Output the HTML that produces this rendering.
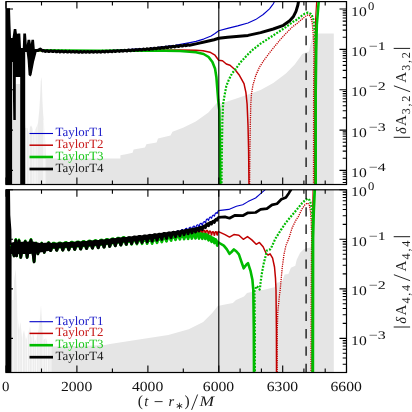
<!DOCTYPE html>
<html><head><meta charset="utf-8"><title>chart</title>
<style>
html,body{margin:0;padding:0;background:#fff;}
body{width:412px;height:412px;overflow:hidden;}
svg{display:block;font-family:"Liberation Serif",serif;will-change:transform;}

</style></head><body>
<svg width="412" height="412" viewBox="0 0 412 412" fill="#111" text-rendering="geometricPrecision">
<defs>
<clipPath id="c1"><rect x="6.0" y="1.6" width="340.5" height="182.9"/></clipPath>
<clipPath id="c2"><rect x="6.0" y="189.8" width="340.5" height="182.7"/></clipPath>
</defs>
<rect width="412" height="412" fill="#fff"/>
<g clip-path="url(#c1)">
<polygon points="12.0,184.5 12.0,90.0 15.8,84.0 20.0,84.0 25.4,128.0 27.5,128.0 28.5,133.0 30.0,127.0 31.0,125.5 32.5,128.0 33.5,134.0 35.0,130.0 36.5,127.0 38.0,123.0 39.3,110.0 40.2,95.0 40.8,81.0 41.3,77.0 41.8,81.0 42.4,100.0 43.1,113.0 43.9,123.0 45.2,140.0 46.0,158.6 120.4,158.6 120.4,155.2 126.0,154.2 132.6,152.8 133.6,149.4 145.0,147.6 146.4,144.3 156.6,142.5 158.0,138.5 170.5,135.5 172.5,131.7 183.0,127.8 195.8,121.5 208.4,112.6 217.2,102.5 221.0,103.5 235.0,99.0 248.0,94.5 260.6,89.9 273.3,82.9 285.9,73.5 294.7,64.6 296.7,61.7 300.0,57.3 302.3,53.9 305.0,52.8 309.0,51.5 310.6,43.9 312.3,37.2 314.0,34.0 318.5,33.5 333.8,33.5 333.8,184.5" fill="#e5e5e5"/>
<line x1="26.6" y1="120" x2="26.6" y2="185" stroke="#fff" stroke-opacity="0.7" stroke-width="0.9"/>
<line x1="29.2" y1="120" x2="29.2" y2="185" stroke="#fff" stroke-opacity="0.8" stroke-width="0.9"/>
<line x1="32.8" y1="120" x2="32.8" y2="185" stroke="#fff" stroke-opacity="0.6" stroke-width="0.9"/>
<line x1="35.0" y1="120" x2="35.0" y2="185" stroke="#fff" stroke-opacity="0.85" stroke-width="0.9"/>
<line x1="37.2" y1="120" x2="37.2" y2="185" stroke="#fff" stroke-opacity="0.5" stroke-width="0.9"/>
<line x1="43.6" y1="120" x2="43.6" y2="185" stroke="#fff" stroke-opacity="0.6" stroke-width="0.9"/>
<line x1="44.8" y1="120" x2="44.8" y2="185" stroke="#fff" stroke-opacity="0.8" stroke-width="0.9"/>
<rect x="25.4" y="76" width="20.8" height="109" fill="#fff" fill-opacity="0.25"/>
<polyline points="34.0,50.5 100.0,51.0 150.0,48.4 175.0,45.4 190.0,42.6 196.0,41.4 203.6,39.1 211.1,36.0 215.0,33.5 218.7,30.7 227.6,28.4 237.7,25.9 248.0,23.0 255.6,19.6 263.2,14.5 269.5,8.8 273.3,3.8 274.8,1.0 275.5,-2.0" fill="none" stroke="#0000c8" stroke-width="1.1" stroke-linejoin="round" stroke-linecap="butt" />
<polyline points="34.0,50.8 100.0,51.2 150.0,50.3 180.0,50.0 196.0,50.3 203.0,50.8 209.9,52.2 215.0,55.2 218.7,60.2 222.5,60.8 226.3,64.0 230.0,65.3 235.1,69.7 239.0,74.7 241.5,79.1 244.0,83.6 245.9,92.4 247.1,104.0 248.0,125.0 248.6,150.0 249.0,186.5" fill="none" stroke="#c00000" stroke-width="1.5" stroke-linejoin="round" stroke-linecap="butt" />
<polyline points="249.6,186.5 249.9,150.0 250.3,125.0 250.8,104.0 251.5,93.7 253.0,84.8 255.6,76.0 259.4,67.2 264.4,59.6 270.1,52.0 279.6,40.4 285.9,33.5 292.2,27.1 296.0,24.3 302.3,18.9 305.5,16.3 308.0,14.9 309.4,15.4 310.5,17.0 311.4,19.5 312.2,22.7 313.0,31.6 313.6,41.7 313.9,52.0 313.6,92.0 313.5,186.5" fill="none" stroke="#c00000" stroke-width="1.3" stroke-linejoin="round" stroke-linecap="butt" stroke-dasharray="1.2 1.0"/>
<polyline points="314.6,186.5 314.8,92.0 315.2,40.0 315.6,19.0 316.8,-1.0" fill="none" stroke="#c00000" stroke-width="1.2" stroke-linejoin="round" stroke-linecap="butt" />
<polyline points="34.0,50.3 100.0,50.9 150.0,50.4 180.0,51.0 196.0,52.2 203.6,54.0 208.6,57.0 212.4,62.0 215.0,68.4 216.4,77.3 217.4,90.0 218.2,100.0 219.3,110.0 219.9,140.0 220.3,186.5" fill="none" stroke="#00bb00" stroke-width="2.6" stroke-linejoin="round" stroke-linecap="butt" />
<polyline points="221.5,186.5 221.9,150.0 222.4,120.0 223.1,104.0 224.4,96.2 226.3,86.1 228.8,79.8 232.0,73.5 235.1,69.7 240.2,62.7 246.5,55.8 251.8,50.5 260.6,43.6 273.3,35.4 285.9,27.1 293.5,21.5 296.0,20.2 301.7,15.8 304.8,13.6 308.0,12.6 311.1,13.9 313.0,17.7 314.0,23.4 314.7,31.6 315.2,41.7 315.6,52.0 315.6,186.5" fill="none" stroke="#00bb00" stroke-width="2.2" stroke-linejoin="round" stroke-linecap="butt" stroke-dasharray="1.9 1.4"/>
<polyline points="315.7,186.5 315.7,92.0 316.2,52.0 316.8,25.0 318.7,1.5 319.0,-2.0" fill="none" stroke="#00bb00" stroke-width="2.6" stroke-linejoin="round" stroke-linecap="butt" />
<polygon points="5.5,8.2 10.0,8.2 10.5,25.0 11.0,38.0 12.5,38.0 13.8,29.0 16.3,29.0 17.0,34.0 17.8,33.5 20.3,33.5 21.0,48.0 22.8,48.0 23.3,33.5 26.0,33.5 26.8,45.0 27.6,39.8 30.2,39.8 30.8,44.0 31.5,39.8 34.0,39.8 34.8,49.2 36.6,49.2 36.6,52.0 34.0,62.0 31.5,75.0 30.3,76.5 28.6,75.0 27.6,60.0 26.6,52.0 25.2,52.0 25.2,186.5 20.2,186.5 20.2,77.0 15.8,77.0 15.8,120.0 13.3,120.0 13.0,100.0 12.7,62.0 12.1,62.0 12.1,186.5 5.5,186.5" fill="#000"/>
<polyline points="35.0,50.6 38.0,50.4 40.4,49.0 42.5,50.9 43.1,50.6 43.7,50.6 44.3,50.9 44.9,51.3 45.5,51.4 46.1,51.1 46.7,50.8 47.3,50.7 47.9,51.0 48.5,51.4 49.1,51.5 49.7,51.3 50.3,50.9 50.9,50.8 51.5,51.0 52.1,51.4 52.7,51.6 53.3,51.5 53.9,51.1 54.5,50.9 55.1,51.1 55.7,51.5 56.3,51.8 56.9,51.7 57.5,51.3 58.1,51.1 58.7,51.2 59.3,51.5 59.9,51.9 60.5,51.8 61.1,51.5 61.7,51.2 62.3,51.2 62.9,51.6 63.5,51.9 64.1,51.9 64.7,51.6 65.3,51.3 65.9,51.2 66.5,51.6 67.1,51.9 67.7,52.0 68.3,51.8 68.9,51.4 69.5,51.3 70.1,51.6 70.7,52.0 71.3,52.1 71.9,51.9 72.5,51.5 73.1,51.4 73.7,51.6 74.3,52.0 74.9,52.2 75.5,52.0 76.1,51.7 76.7,51.4 77.3,51.6 77.9,52.0 78.5,52.3 79.1,52.2 79.7,51.8 80.3,51.5 80.9,51.6 81.5,52.0 82.1,52.3 82.7,52.2 83.3,51.8 83.9,51.5 84.5,51.5 85.1,51.9 85.7,52.2 86.3,52.2 86.9,51.9 87.5,51.5 88.1,51.5 88.7,51.8 89.3,52.2 89.9,52.2 90.5,51.9 91.1,51.6 91.7,51.5 92.3,51.7 92.9,52.1 93.5,52.2 94.1,52.0 94.7,51.6 95.3,51.4 95.9,51.6 96.5,52.0 97.1,52.2 97.7,52.0 98.3,51.6 98.9,51.4 99.5,51.6 100.1,51.9 100.7,52.2 101.3,52.0 101.9,51.6 102.5,51.3 103.1,51.4 103.7,51.7 104.3,52.0 104.9,51.9 105.5,51.5 106.1,51.2 106.7,51.2 107.3,51.5 107.9,51.8 108.5,51.8 109.1,51.4 109.7,51.1 110.3,51.0 110.9,51.3 111.5,51.6 112.1,51.7 112.7,51.3 113.3,50.9 113.9,50.8 114.5,51.0 115.1,51.4 115.7,51.5 116.3,51.2 116.9,50.8 117.5,50.6 118.1,50.8 118.7,51.2 119.3,51.4 119.9,51.1 120.5,50.7 121.1,50.5 121.7,50.6 122.3,51.0 122.9,51.2 123.5,51.0 124.1,50.6 124.7,50.3 125.3,50.4 125.9,50.7 126.5,51.0 127.1,50.9 127.7,50.5 128.3,50.1 128.9,50.1 129.5,50.4 130.1,50.7 130.7,50.7 131.3,50.3 131.9,49.9 132.5,49.8 133.1,50.1 133.7,50.4 134.3,50.5 134.9,50.1 135.5,49.7 136.1,49.6 136.7,49.8 137.3,50.1 137.9,50.2 138.5,49.9 139.1,49.5 139.7,49.3 140.3,49.5 140.9,49.8 141.5,50.0 142.1,49.8 142.7,49.3 143.3,49.1 143.9,49.2 144.5,49.5 145.1,49.7 145.7,49.6 146.3,49.2 146.9,48.8 147.5,48.9 148.1,49.2 148.7,49.5 149.3,49.4 149.9,49.0 150.5,48.6 151.1,48.5 151.7,48.8 152.3,49.1 152.9,49.1 153.5,48.7 154.1,48.3 154.7,48.2 155.3,48.4 155.9,48.7 156.5,48.7 157.1,48.4 157.7,48.0 158.3,47.8 158.9,48.0 159.5,48.3 160.1,48.4 160.7,48.1 161.3,47.6 161.9,47.4 162.5,47.6 163.1,47.9 163.7,48.0 164.3,47.8 164.9,47.3 165.5,47.1 166.1,47.1 166.7,47.5 167.3,47.7 167.9,47.5 168.5,47.0 169.1,46.7 169.7,46.7 170.3,47.0 170.9,47.3 171.5,47.2 172.1,46.7 172.7,46.4 173.3,46.3 173.9,46.6 174.5,46.9 175.1,46.8 175.7,46.4 176.3,46.0 176.9,45.9 177.5,46.1 178.1,46.4 178.7,46.5 179.3,46.1 179.9,45.7 180.5,45.5 181.1,45.7 181.7,46.0 182.3,46.1 182.9,45.8 183.5,45.3 184.1,45.1 184.7,45.2 185.3,45.6 185.9,45.7 186.5,45.5 187.1,45.0 187.7,44.7 188.3,44.8 188.9,45.1 189.5,45.3 196.0,43.9 208.6,41.0 214.0,39.7 218.7,38.3 227.6,37.2 248.0,35.4 260.6,32.6 273.3,29.0 283.4,25.3 289.7,20.8 293.5,16.4 296.0,11.4 297.9,5.0 298.5,1.5 298.9,-2.0" fill="none" stroke="#000" stroke-width="3.0" stroke-linejoin="round" stroke-linecap="butt" />
<line x1="218.8" y1="1.6" x2="218.8" y2="184.5" stroke="#000" stroke-width="1.1"/>
<line x1="306.1" y1="1.6" x2="306.1" y2="184.5" stroke="#0a0a0a" stroke-width="1.3" stroke-dasharray="9.4 8.0" stroke-dashoffset="0.6"/>
</g>
<line x1="29.5" y1="133.5" x2="53" y2="133.5" stroke="#0000c8" stroke-width="1.1"/>
<text x="55.6" y="136.3" font-size="12.6" fill="#1a1ac8" textLength="47.9" lengthAdjust="spacingAndGlyphs">TaylorT1</text>
<line x1="29.5" y1="145.2" x2="53" y2="145.2" stroke="#c00000" stroke-width="1.5"/>
<text x="55.6" y="148.0" font-size="12.6" fill="#c81a1a" textLength="47.9" lengthAdjust="spacingAndGlyphs">TaylorT2</text>
<line x1="29.5" y1="157.0" x2="53" y2="157.0" stroke="#00bb00" stroke-width="2.6"/>
<text x="55.6" y="159.8" font-size="12.6" fill="#1ac81a" textLength="47.9" lengthAdjust="spacingAndGlyphs">TaylorT3</text>
<line x1="29.5" y1="169.0" x2="53" y2="169.0" stroke="#000" stroke-width="2.7"/>
<text x="55.6" y="171.8" font-size="12.6" fill="#1a1a1a" textLength="47.9" lengthAdjust="spacingAndGlyphs">TaylorT4</text>
<g clip-path="url(#c2)">
<polygon points="12.0,372.5 12.0,300.0 13.5,300.0 14.2,280.0 15.8,269.0 16.6,290.0 17.5,315.0 19.0,330.0 20.5,322.0 22.0,338.0 24.0,330.0 26.0,340.0 28.0,334.0 30.0,326.0 31.5,338.0 33.0,332.0 35.0,342.0 37.0,336.0 38.5,330.0 40.0,318.0 41.0,305.0 42.0,322.0 43.5,340.0 46.0,338.0 48.0,345.0 52.0,346.5 80.0,346.0 105.0,345.0 110.0,343.9 139.0,339.5 168.3,335.0 188.7,329.3 203.2,322.0 212.0,313.3 217.8,306.0 225.0,304.5 232.9,303.0 236.0,300.0 244.0,296.6 247.0,293.0 251.4,292.0 256.0,290.0 263.1,290.0 274.5,287.2 277.0,282.8 282.1,281.6 284.6,274.6 288.4,274.0 290.9,267.7 295.3,265.8 296.7,259.7 300.0,253.0 303.4,249.6 306.0,248.3 311.5,247.5 313.0,240.0 314.2,211.0 315.7,189.8 333.8,189.8 333.8,372.5" fill="#e5e5e5"/>
<line x1="13.2" y1="265" x2="13.2" y2="373" stroke="#fff" stroke-opacity="0.6" stroke-width="0.9"/>
<line x1="17.6" y1="265" x2="17.6" y2="373" stroke="#fff" stroke-opacity="0.7" stroke-width="0.9"/>
<line x1="19.8" y1="265" x2="19.8" y2="373" stroke="#fff" stroke-opacity="0.5" stroke-width="0.9"/>
<line x1="22.6" y1="265" x2="22.6" y2="373" stroke="#fff" stroke-opacity="0.85" stroke-width="0.9"/>
<line x1="25.2" y1="265" x2="25.2" y2="373" stroke="#fff" stroke-opacity="0.6" stroke-width="0.9"/>
<line x1="27.4" y1="265" x2="27.4" y2="373" stroke="#fff" stroke-opacity="0.8" stroke-width="0.9"/>
<line x1="29.6" y1="265" x2="29.6" y2="373" stroke="#fff" stroke-opacity="0.5" stroke-width="0.9"/>
<line x1="32.2" y1="265" x2="32.2" y2="373" stroke="#fff" stroke-opacity="0.85" stroke-width="0.9"/>
<line x1="34.4" y1="265" x2="34.4" y2="373" stroke="#fff" stroke-opacity="0.6" stroke-width="0.9"/>
<line x1="36.6" y1="265" x2="36.6" y2="373" stroke="#fff" stroke-opacity="0.8" stroke-width="0.9"/>
<line x1="39.0" y1="265" x2="39.0" y2="373" stroke="#fff" stroke-opacity="0.5" stroke-width="0.9"/>
<line x1="43.0" y1="265" x2="43.0" y2="373" stroke="#fff" stroke-opacity="0.8" stroke-width="0.9"/>
<line x1="45.4" y1="265" x2="45.4" y2="373" stroke="#fff" stroke-opacity="0.6" stroke-width="0.9"/>
<line x1="47.6" y1="265" x2="47.6" y2="373" stroke="#fff" stroke-opacity="0.8" stroke-width="0.9"/>
<line x1="50.0" y1="265" x2="50.0" y2="373" stroke="#fff" stroke-opacity="0.5" stroke-width="0.9"/>
<rect x="12" y="265" width="40" height="108" fill="#fff" fill-opacity="0.3"/>
<polyline points="11.0,246.0 12.5,250.0 14.0,256.0 15.8,240.0 16.6,256.0 17.8,248.0 19.0,240.5 20.8,257.5 22.0,250.0 23.5,246.0 25.3,241.5 27.1,257.5 28.5,250.0 29.5,244.0 31.0,240.0 32.5,250.0 34.1,262.0 35.2,250.0 36.0,243.5 37.9,254.0 39.5,248.0 41.7,243.5 44.2,252.5 46.0,247.0 48.6,243.0 50.2,250.5 50.2,249.6 50.5,250.2 50.8,250.3 51.1,249.6 51.4,248.5 51.7,247.2 52.0,246.0 52.3,245.1 52.6,244.5 52.9,244.3 53.2,244.2 53.5,244.2 53.8,244.1 54.1,244.1 54.4,244.1 54.7,244.3 55.0,244.7 55.3,245.5 55.6,246.6 55.9,247.9 56.2,249.1 56.5,249.9 56.8,250.1 57.1,249.6 57.4,248.5 57.7,247.2 58.0,245.9 58.3,244.9 58.6,244.3 58.9,244.0 59.2,243.9 59.5,243.8 59.8,243.8 60.1,243.8 60.4,243.8 60.7,243.9 61.0,244.3 61.3,245.0 61.6,246.1 61.9,247.4 62.2,248.6 62.5,249.5 62.8,249.8 63.1,249.4 63.4,248.4 63.7,247.1 64.0,245.7 64.3,244.7 64.6,244.0 64.9,243.7 65.2,243.5 65.5,243.5 65.8,243.5 66.1,243.5 66.4,243.5 66.7,243.6 67.0,243.9 67.3,244.6 67.6,245.7 67.9,247.0 68.2,248.3 68.5,249.2 68.8,249.5 69.1,249.1 69.4,248.1 69.7,246.8 70.0,245.4 70.3,244.4 70.6,243.7 70.9,243.3 71.2,243.2 71.5,243.2 71.8,243.2 72.1,243.2 72.4,243.2 72.7,243.3 73.0,243.6 73.3,244.4 73.6,245.5 73.9,246.8 74.2,248.1 74.5,249.0 74.8,249.2 75.1,248.7 75.4,247.6 75.7,246.3 76.0,244.9 76.3,243.9 76.6,243.3 76.9,243.0 77.2,242.8 77.5,242.8 77.8,242.8 78.1,242.8 78.4,242.8 78.7,242.9 79.0,243.3 79.3,244.1 79.6,245.3 79.9,246.7 80.2,247.9 80.5,248.7 80.8,248.7 81.1,248.1 81.4,246.9 81.7,245.5 82.0,244.2 82.3,243.3 82.6,242.7 82.9,242.5 83.2,242.4 83.5,242.4 83.8,242.3 84.1,242.3 84.4,242.4 84.7,242.6 85.0,243.1 85.3,244.0 85.6,245.3 85.9,246.7 86.2,247.8 86.5,248.4 86.8,248.2 87.1,247.3 87.4,246.0 87.7,244.6 88.0,243.4 88.3,242.6 88.6,242.2 88.9,242.0 89.2,241.9 89.5,241.9 89.8,241.9 90.1,241.9 90.4,242.0 90.7,242.3 91.0,243.0 91.3,244.1 91.6,245.5 91.9,246.8 92.2,247.7 92.5,248.0 92.8,247.4 93.1,246.3 93.4,244.9 93.7,243.6 94.0,242.5 94.3,241.9 94.6,241.6 94.9,241.5 95.2,241.5 95.5,241.5 95.8,241.5 96.1,241.5 96.4,241.7 96.7,242.2 97.0,243.2 97.3,244.4 97.6,245.8 97.9,247.0 98.2,247.5 98.5,247.3 98.8,246.4 99.1,245.1 99.4,243.7 99.7,242.5 100.0,241.7 100.3,241.3 100.6,241.1 100.9,241.0 101.2,241.0 101.5,241.0 101.8,241.0 102.1,241.1 102.4,241.5 102.7,242.3 103.0,243.5 103.3,244.9 103.6,246.1 103.9,246.8 104.2,246.8 104.5,246.1 104.8,244.8 105.1,243.3 105.4,242.0 105.7,241.1 106.0,240.7 106.3,240.5 106.6,240.4 106.9,240.4 107.2,240.3 107.5,240.3 107.8,240.4 108.1,240.8 108.4,241.6 108.7,242.7 109.0,244.1 109.3,245.4 109.6,246.1 109.9,246.1 110.2,245.3 110.5,244.0 110.8,242.5 111.1,241.3 111.4,240.4 111.7,240.0 112.0,239.8 112.3,239.7 112.6,239.7 112.9,239.7 113.2,239.7 113.5,239.8 113.8,240.3 114.1,241.2 114.4,242.4 114.7,243.9 115.0,245.0 115.3,245.5 115.6,245.2 115.9,244.2 116.2,242.8 116.5,241.3 116.8,240.2 117.1,239.5 117.4,239.2 117.7,239.1 118.0,239.1 118.3,239.0 118.6,239.0 118.9,239.1 119.2,239.4 119.5,240.1 119.8,241.2 120.1,242.6 120.4,243.9 120.7,244.7 121.0,244.7 121.3,243.9 121.6,242.6 121.9,241.1 122.2,239.9 122.5,239.0 122.8,238.7 123.1,238.5 123.4,238.5 123.7,238.4 124.0,238.4 124.3,238.4 124.6,238.7 124.9,239.3 125.2,240.4 125.5,241.8 125.8,243.1 126.1,244.0 126.4,244.1 126.7,243.3 127.0,242.0 127.3,240.5 127.6,239.2 127.9,238.4 128.2,238.0 128.5,237.9 128.8,237.9 129.1,237.8 129.4,237.8 129.7,237.9 130.0,238.1 130.3,238.8 130.6,240.0 130.9,241.4 131.2,242.7 131.5,243.5 131.8,243.4 132.1,242.4 132.4,241.0 132.7,239.5 133.0,238.4 133.3,237.7 133.6,237.4 133.9,237.3 134.2,237.3 134.5,237.2 134.8,237.2 135.1,237.3 135.4,237.8 135.7,238.7 136.0,240.0 136.3,241.4 136.6,242.5 136.9,242.9 137.2,242.4 137.5,241.1 137.8,239.6 138.1,238.3 138.4,237.4 138.7,236.9 139.0,236.8 139.3,236.7 139.6,236.7 139.9,236.7 140.2,236.7 140.5,237.0 140.8,237.8 141.1,239.0 141.4,240.4 141.7,241.7 142.0,242.3 142.3,241.9 142.6,240.8 142.9,239.3 143.2,237.9 143.5,236.9 143.8,236.4 144.1,236.2 144.4,236.2 144.7,236.1 145.0,236.1 145.3,236.1 145.6,236.4 145.9,237.2 146.2,238.4 146.5,239.8 146.8,241.1 147.1,241.7 147.4,241.3 147.7,240.1 148.0,238.6 148.3,237.2 148.6,236.3 148.9,235.8 149.2,235.6 149.5,235.6 149.8,235.6 150.1,235.5 150.4,235.6 150.7,236.0 151.0,236.9 151.3,238.2 151.6,239.6 151.9,240.8 152.2,241.0 152.5,240.3 152.8,239.0 153.1,237.4 153.4,236.2 153.7,235.4 154.0,235.1 154.3,235.0 154.6,235.0 154.9,234.9 155.2,234.9 155.5,235.1 155.8,235.8 156.1,236.9 156.4,238.3 156.7,239.6 157.0,240.1 157.3,239.7 157.6,238.5 157.9,237.0 158.2,235.7 158.5,234.9 158.8,234.5 159.1,234.4 159.4,234.3 159.7,234.3 160.0,234.3 160.3,234.5 160.6,235.0 160.9,236.1 161.2,237.5 161.5,238.7 161.8,239.2 162.1,238.8 162.4,237.6 162.7,236.1 163.0,234.8 163.3,234.1 163.6,233.8 163.9,233.7 164.2,233.7 164.5,233.7 164.8,233.7 165.1,233.9 165.4,234.7 165.7,235.9 166.0,237.2 166.3,238.2 166.6,238.3 166.9,237.5 167.2,236.1 167.5,234.7 167.8,233.7 168.1,233.3 168.4,233.1 168.7,233.1 169.0,233.0 169.3,233.0 169.6,233.2 169.9,233.7 170.2,234.7 170.5,236.0 170.8,237.0 171.1,237.3 171.4,236.7 171.7,235.3 172.0,233.9 172.3,232.9 172.6,232.4 172.9,232.2 173.2,232.1 173.5,232.0 173.8,232.0 174.1,232.1 174.4,232.6 174.7,233.6 175.0,234.8 175.3,235.7 175.6,235.9 175.9,235.1 176.2,233.8 176.5,232.5 176.8,231.6 177.1,231.2 177.4,231.0 177.7,230.9 178.0,230.9 178.3,230.8 178.6,231.0 178.9,231.7 179.2,232.8 179.5,233.9 179.8,234.5 180.1,234.2 180.4,233.1 180.7,231.7 181.0,230.6 181.3,230.0 181.6,229.8 181.9,229.7 182.2,229.6 182.5,229.5 182.8,229.7 183.1,230.2 183.4,231.2 183.7,232.4 184.0,233.0 184.3,232.7 184.6,231.6 184.9,230.2 185.2,229.2 185.5,228.7 185.8,228.5 186.1,228.4 186.4,228.4 186.7,228.3 187.0,228.6 187.3,229.4 187.6,230.5 187.9,231.4 188.2,231.4 188.5,230.5 188.8,229.2 189.1,228.1 189.4,227.6 189.7,227.4 190.0,227.3 190.3,227.2 190.6,227.2 190.9,227.5 191.2,228.4 191.5,229.5 191.8,230.2 192.1,229.9 192.4,228.8 192.7,227.5 193.0,226.7 193.3,226.3 193.6,226.2 193.9,226.1 194.2,226.1 194.5,226.3 194.8,227.0 195.1,228.1 195.4,228.8 195.7,228.6 196.0,227.5 196.3,226.2 196.6,225.4 196.9,225.1 197.2,224.9 197.5,224.8 197.8,224.7 198.1,225.1 198.4,225.9 198.7,226.9 199.0,227.1 199.3,226.3 199.6,225.0 199.9,224.0 200.2,223.6 200.5,223.4 200.8,223.3 201.1,223.2 201.4,223.4 201.7,224.2 202.0,225.2 202.3,225.4 202.6,224.5 202.9,223.3 203.2,222.4 203.5,222.0 203.8,221.9 204.1,221.7 204.4,221.5 204.7,221.7 205.0,222.4 205.3,223.0 205.6,222.6 205.9,221.4 206.2,220.1 206.5,219.5 206.8,219.2 207.1,219.1 207.4,218.9 207.7,219.0 208.0,219.7 208.3,220.4 208.6,220.4 208.9,219.5 209.2,218.3 209.5,217.6 209.8,217.3 210.1,217.1 210.4,217.0 210.7,217.1 211.0,217.6 211.3,218.3 211.6,218.3 211.9,217.3 212.2,216.3 212.5,215.7 212.8,215.4 213.1,215.2 213.4,215.1 213.7,215.3 214.0,215.8 214.3,216.2 214.6,215.7 214.9,214.6 215.2,213.7 215.5,213.3 215.8,213.0 216.1,212.7 216.4,212.6 216.7,213.0 217.0,213.5 217.3,213.3 217.6,212.3 217.9,211.4 218.2,210.9 218.5,210.6 228.8,209.4 236.4,206.2 242.7,204.7 248.0,201.6 255.6,198.0 260.6,193.6 265.0,189.8 266.5,187.0" fill="none" stroke="#0000c8" stroke-width="1.1" stroke-linejoin="round" stroke-linecap="butt" />
<polyline points="11.0,246.0 12.5,250.0 14.0,256.0 15.8,240.0 16.6,256.0 17.8,248.0 19.0,240.5 20.8,257.5 22.0,250.0 23.5,246.0 25.3,241.5 27.1,257.5 28.5,250.0 29.5,244.0 31.0,240.0 32.5,250.0 34.1,262.0 35.2,250.0 36.0,243.5 37.9,254.0 39.5,248.0 41.7,243.5 44.2,252.5 46.0,247.0 48.6,243.0 50.2,250.5 50.2,249.7 50.5,250.3 50.8,250.4 51.1,249.7 51.4,248.6 51.7,247.3 52.0,246.1 52.3,245.2 52.6,244.6 52.9,244.4 53.2,244.3 53.5,244.2 53.8,244.2 54.1,244.2 54.4,244.2 54.7,244.4 55.0,244.8 55.3,245.6 55.6,246.7 55.9,248.0 56.2,249.2 56.5,250.0 56.8,250.2 57.1,249.7 57.4,248.6 57.7,247.3 58.0,246.0 58.3,245.0 58.6,244.4 58.9,244.1 59.2,244.0 59.5,243.9 59.8,243.9 60.1,243.9 60.4,243.9 60.7,244.0 61.0,244.4 61.3,245.1 61.6,246.2 61.9,247.5 62.2,248.7 62.5,249.6 62.8,249.9 63.1,249.5 63.4,248.5 63.7,247.2 64.0,245.9 64.3,244.8 64.6,244.1 64.9,243.8 65.2,243.7 65.5,243.6 65.8,243.6 66.1,243.6 66.4,243.6 66.7,243.7 67.0,244.1 67.3,244.7 67.6,245.8 67.9,247.1 68.2,248.4 68.5,249.3 68.8,249.6 69.1,249.2 69.4,248.2 69.7,246.9 70.0,245.6 70.3,244.5 70.6,243.8 70.9,243.5 71.2,243.3 71.5,243.3 71.8,243.3 72.1,243.3 72.4,243.3 72.7,243.4 73.0,243.8 73.3,244.5 73.6,245.6 73.9,246.9 74.2,248.2 74.5,249.1 74.8,249.3 75.1,248.9 75.4,247.8 75.7,246.4 76.0,245.1 76.3,244.0 76.6,243.4 76.9,243.1 77.2,243.0 77.5,242.9 77.8,242.9 78.1,242.9 78.4,242.9 78.7,243.1 79.0,243.5 79.3,244.3 79.6,245.5 79.9,246.8 80.2,248.0 80.5,248.8 80.8,248.9 81.1,248.2 81.4,247.1 81.7,245.7 82.0,244.4 82.3,243.4 82.6,242.9 82.9,242.6 83.2,242.5 83.5,242.5 83.8,242.5 84.1,242.5 84.4,242.5 84.7,242.7 85.0,243.3 85.3,244.2 85.6,245.5 85.9,246.8 86.2,248.0 86.5,248.5 86.8,248.3 87.1,247.5 87.4,246.2 87.7,244.8 88.0,243.6 88.3,242.8 88.6,242.3 88.9,242.2 89.2,242.1 89.5,242.1 89.8,242.1 90.1,242.1 90.4,242.2 90.7,242.5 91.0,243.2 91.3,244.3 91.6,245.7 91.9,247.0 92.2,247.9 92.5,248.1 92.8,247.6 93.1,246.5 93.4,245.1 93.7,243.7 94.0,242.7 94.3,242.1 94.6,241.8 94.9,241.7 95.2,241.7 95.5,241.7 95.8,241.6 96.1,241.7 96.4,241.9 96.7,242.4 97.0,243.3 97.3,244.6 97.6,246.0 97.9,247.2 98.2,247.7 98.5,247.5 98.8,246.6 99.1,245.3 99.4,243.8 99.7,242.6 100.0,241.9 100.3,241.4 100.6,241.3 100.9,241.2 101.2,241.2 101.5,241.2 101.8,241.2 102.1,241.3 102.4,241.7 102.7,242.5 103.0,243.6 103.3,245.0 103.6,246.3 103.9,247.0 104.2,247.0 104.5,246.3 104.8,245.0 105.1,243.5 105.4,242.2 105.7,241.3 106.0,240.8 106.3,240.6 106.6,240.6 106.9,240.5 107.2,240.5 107.5,240.5 107.8,240.6 108.1,241.0 108.4,241.8 108.7,242.9 109.0,244.3 109.3,245.6 109.6,246.3 109.9,246.3 110.2,245.5 110.5,244.2 110.8,242.7 111.1,241.4 111.4,240.6 111.7,240.2 112.0,240.0 112.3,239.9 112.6,239.9 112.9,239.9 113.2,239.9 113.5,240.0 113.8,240.5 114.1,241.4 114.4,242.7 114.7,244.1 115.0,245.2 115.3,245.7 115.6,245.4 115.9,244.4 116.2,243.0 116.5,241.5 116.8,240.4 117.1,239.7 117.4,239.4 117.7,239.3 118.0,239.3 118.3,239.3 118.6,239.2 118.9,239.3 119.2,239.6 119.5,240.3 119.8,241.4 120.1,242.8 120.4,244.1 120.7,244.9 121.0,244.9 121.3,244.2 121.6,242.8 121.9,241.3 122.2,240.1 122.5,239.3 122.8,238.9 123.1,238.7 123.4,238.7 123.7,238.6 124.0,238.6 124.3,238.7 124.6,238.9 124.9,239.5 125.2,240.6 125.5,242.0 125.8,243.3 126.1,244.2 126.4,244.3 126.7,243.6 127.0,242.2 127.3,240.7 127.6,239.5 127.9,238.7 128.2,238.3 128.5,238.1 128.8,238.1 129.1,238.1 129.4,238.0 129.7,238.1 130.0,238.4 130.3,239.0 130.6,240.2 130.9,241.6 131.2,242.9 131.5,243.7 131.8,243.6 132.1,242.7 132.4,241.3 132.7,239.8 133.0,238.6 133.3,237.9 133.6,237.6 133.9,237.5 134.2,237.5 134.5,237.5 134.8,237.5 135.1,237.6 135.4,238.0 135.7,238.9 136.0,240.2 136.3,241.6 136.6,242.8 136.9,243.1 137.2,242.6 137.5,241.4 137.8,239.8 138.1,238.5 138.4,237.6 138.7,237.2 139.0,237.0 139.3,237.0 139.6,236.9 139.9,236.9 140.2,237.0 140.5,237.3 140.8,238.0 141.1,239.2 141.4,240.7 141.7,241.9 142.0,242.5 142.3,242.2 142.6,241.1 142.9,239.6 143.2,238.1 143.5,237.2 143.8,236.6 144.1,236.5 144.4,236.4 144.7,236.4 145.0,236.3 145.3,236.4 145.6,236.7 145.9,237.4 146.2,238.6 146.5,240.1 146.8,241.4 147.1,241.9 147.4,241.5 147.7,240.4 148.0,238.9 148.3,237.5 148.6,236.5 148.9,236.1 149.2,235.9 149.5,235.9 149.8,235.8 150.1,235.8 150.4,235.9 150.7,236.3 151.0,237.1 151.3,238.4 151.6,239.9 151.9,241.0 152.2,241.3 152.5,240.6 152.8,239.2 153.1,237.7 153.4,236.4 153.7,235.7 154.0,235.4 154.3,235.3 154.6,235.2 154.9,235.2 155.2,235.2 155.5,235.4 155.8,236.0 156.1,237.2 156.4,238.6 156.7,239.9 157.0,240.4 157.3,240.0 157.6,238.8 157.9,237.3 158.2,235.9 158.5,235.1 158.8,234.7 159.1,234.6 159.4,234.6 159.7,234.5 160.0,234.5 160.3,234.7 160.6,235.3 160.9,236.4 161.2,237.8 161.5,239.0 161.8,239.6 162.1,239.1 162.4,237.9 162.7,236.4 163.0,235.1 163.3,234.3 163.6,234.0 163.9,233.9 164.2,233.9 164.5,233.9 164.8,233.9 165.1,234.2 165.4,234.9 165.7,236.1 166.0,237.5 166.3,238.5 166.6,238.7 166.9,237.8 167.2,236.4 167.5,235.0 167.8,234.0 168.1,233.5 168.4,233.3 168.7,233.3 169.0,233.2 169.3,233.2 169.6,233.4 169.9,233.9 170.2,235.1 170.5,236.5 170.8,237.6 171.1,238.0 171.4,237.4 171.7,236.0 172.0,234.6 172.3,233.6 172.6,233.1 172.9,232.9 173.2,232.9 173.5,232.9 173.8,232.9 174.1,233.1 174.4,233.7 174.7,234.8 175.0,236.2 175.3,237.3 175.6,237.5 175.9,236.8 176.2,235.4 176.5,234.1 176.8,233.2 177.1,232.8 177.4,232.7 177.7,232.7 178.0,232.6 178.3,232.7 178.6,233.0 178.9,233.7 179.2,235.0 179.5,236.3 179.8,237.0 180.1,236.8 180.4,235.6 180.7,234.2 181.0,233.1 181.3,232.5 181.6,232.3 181.9,232.2 182.2,232.2 182.5,232.2 182.8,232.4 183.1,233.1 183.4,234.3 183.7,235.7 184.0,236.5 184.3,236.2 184.6,235.0 184.9,233.6 185.2,232.5 185.5,231.9 185.8,231.8 186.1,231.8 186.4,231.7 186.7,231.8 187.0,232.2 187.3,233.2 187.6,234.6 187.9,235.7 188.2,235.9 188.5,234.9 188.8,233.4 189.1,232.2 189.4,231.6 189.7,231.4 190.0,231.4 190.3,231.3 190.6,231.4 190.9,231.9 191.2,233.0 191.5,234.5 191.8,235.4 192.1,235.1 192.4,233.8 192.7,232.3 193.0,231.4 193.3,231.0 193.6,231.0 193.9,230.9 194.2,231.0 194.5,231.3 194.8,232.3 195.1,233.8 195.4,234.9 195.7,234.7 196.0,233.4 196.3,231.9 196.6,231.0 196.9,230.7 197.2,230.7 197.5,230.6 197.8,230.7 198.1,231.3 198.4,232.6 198.7,234.1 199.0,234.7 199.3,233.8 199.6,232.2 199.9,231.0 200.2,230.6 200.5,230.5 200.8,230.5 201.1,230.5 201.4,231.1 201.7,232.4 202.0,233.9 202.3,234.4 202.6,233.4 202.9,231.8 203.2,230.7 203.5,230.4 203.8,230.3 204.1,230.3 204.4,230.4 204.7,231.2 205.0,232.7 205.3,234.0 205.6,233.8 205.9,232.4 206.2,231.0 206.5,230.4 206.8,230.4 207.1,230.4 207.4,230.6 207.7,231.1 208.0,232.5 208.3,234.1 208.6,234.6 208.9,233.5 209.2,232.0 209.5,231.2 209.8,231.1 210.1,231.2 210.4,231.3 210.7,231.8 211.0,233.1 211.3,234.7 211.6,235.0 211.9,233.8 212.2,232.4 212.5,231.7 212.8,231.7 213.1,231.8 213.4,231.9 213.7,232.7 214.0,234.1 214.3,235.3 214.6,235.0 214.9,233.4 215.2,232.2 215.5,231.8 215.8,231.8 216.1,231.8 216.4,232.1 216.7,233.3 217.0,234.8 217.3,235.0 217.6,233.6 217.9,232.2 218.2,231.7 218.5,231.6 225.0,234.6 229.5,237.1 233.9,234.6 238.9,235.2 243.3,239.3 247.5,236.6 251.8,239.9 256.2,244.3 259.4,242.4 263.1,246.8 266.3,253.8 268.2,255.0 270.1,253.8 272.6,258.2 274.5,267.0 275.5,278.4 276.0,290.0 276.4,330.0 276.5,374.5" fill="none" stroke="#c00000" stroke-width="1.5" stroke-linejoin="round" stroke-linecap="butt" />
<polyline points="277.2,374.5 277.3,330.0 277.8,312.0 279.5,295.0 280.2,290.0 281.1,279.7 282.3,267.0 284.0,254.4 285.9,245.6 289.0,238.0 292.2,227.7 296.0,220.1 298.5,216.3 301.7,209.4 304.8,204.9 307.4,203.0 309.3,204.9 310.5,211.3 311.2,221.4 311.6,236.5 311.2,290.0 311.0,374.5" fill="none" stroke="#c00000" stroke-width="1.3" stroke-linejoin="round" stroke-linecap="butt" stroke-dasharray="1.2 1.0"/>
<polyline points="312.0,374.5 312.2,236.0 312.5,205.0 312.9,188.0" fill="none" stroke="#c00000" stroke-width="0.8" stroke-linejoin="round" stroke-linecap="butt" />
<polygon points="50.2,243.0 52.2,243.0 54.2,242.9 56.2,242.8 58.2,242.7 60.2,242.6 62.2,242.4 64.2,242.3 66.2,242.2 68.2,242.1 70.2,242.0 72.2,241.9 74.2,241.8 76.2,241.7 78.2,241.5 80.2,241.4 82.2,241.2 84.2,241.1 86.2,240.9 88.2,240.8 90.2,240.6 92.2,240.5 94.2,240.3 96.2,240.2 98.2,240.0 100.2,239.9 102.2,239.6 104.2,239.4 106.2,239.2 108.2,239.0 110.2,238.7 112.2,238.5 114.2,238.3 116.2,238.0 118.2,237.8 120.2,237.6 122.2,237.5 124.2,237.3 126.2,237.2 128.2,237.1 130.2,237.0 132.2,236.9 134.2,236.8 136.2,236.6 138.2,236.5 140.2,236.4 142.2,236.4 144.2,236.4 146.2,236.4 148.2,236.3 150.2,236.3 152.2,236.3 154.2,236.0 156.2,235.8 158.2,235.5 160.2,235.3 162.2,235.0 164.2,234.8 166.2,234.6 168.2,234.3 170.2,234.1 172.2,233.8 174.2,233.6 176.2,233.3 178.2,233.1 180.2,233.0 182.2,232.9 184.2,232.8 186.2,232.7 188.2,232.6 190.2,232.5 192.2,232.4 194.2,232.3 196.2,232.3 198.2,232.4 200.2,232.6 202.2,232.8 204.2,232.9 206.2,233.3 208.2,234.4 210.2,235.5 212.2,236.6 214.2,237.5 216.2,239.1 218.2,241.3 218.2,245.6 216.2,243.5 214.2,242.0 212.2,241.1 210.2,240.1 208.2,239.1 206.2,238.1 204.2,237.7 202.2,237.6 200.2,237.4 198.2,237.3 196.2,237.1 194.2,237.2 192.2,237.4 190.2,237.5 188.2,237.6 186.2,237.7 184.2,237.8 182.2,238.0 180.2,238.1 178.2,238.2 176.2,238.5 174.2,238.8 172.2,239.0 170.2,239.3 168.2,239.6 166.2,239.9 164.2,240.2 162.2,240.5 160.2,240.8 158.2,241.1 156.2,241.4 154.2,241.7 152.2,242.0 150.2,242.0 148.2,242.1 146.2,242.1 144.2,242.1 142.2,242.2 140.2,242.2 138.2,242.3 136.2,242.5 134.2,242.6 132.2,242.7 130.2,242.9 128.2,243.0 126.2,243.1 124.2,243.3 122.2,243.4 120.2,243.6 118.2,243.8 116.2,244.1 114.2,244.3 112.2,244.6 110.2,244.8 108.2,245.0 106.2,245.3 104.2,245.5 102.2,245.8 100.2,246.0 98.2,246.2 96.2,246.3 94.2,246.5 92.2,246.6 90.2,246.7 88.2,246.9 86.2,247.0 84.2,247.2 82.2,247.3 80.2,247.5 78.2,247.6 76.2,247.7 74.2,247.9 72.2,248.0 70.2,248.1 68.2,248.2 66.2,248.3 64.2,248.4 62.2,248.5 60.2,248.6 58.2,248.7 56.2,248.8 54.2,248.9 52.2,249.0 50.2,249.0" fill="#00bb00"/>
<polyline points="11.0,246.0 12.5,250.0 14.0,256.0 15.8,240.0 16.6,256.0 17.8,248.0 19.0,240.5 20.8,257.5 22.0,250.0 23.5,246.0 25.3,241.5 27.1,257.5 28.5,250.0 29.5,244.0 31.0,240.0 32.5,250.0 34.1,262.0 35.2,250.0 36.0,243.5 37.9,254.0 39.5,248.0 41.7,243.5 44.2,252.5 46.0,247.0 48.6,243.0 50.2,250.5 50.2,249.8 50.5,250.6 50.8,250.6 51.1,249.9 51.4,248.6 51.7,247.2 52.0,245.8 52.3,244.8 52.6,244.2 52.9,243.9 53.2,243.8 53.5,243.8 53.8,243.8 54.1,243.8 54.4,243.8 54.7,244.0 55.0,244.4 55.3,245.3 55.6,246.5 55.9,248.0 56.2,249.3 56.5,250.2 56.8,250.4 57.1,249.9 57.4,248.7 57.7,247.2 58.0,245.8 58.3,244.7 58.6,244.0 58.9,243.6 59.2,243.5 59.5,243.5 59.8,243.5 60.1,243.5 60.4,243.5 60.7,243.6 61.0,244.0 61.3,244.8 61.6,246.0 61.9,247.4 62.2,248.8 62.5,249.8 62.8,250.2 63.1,249.7 63.4,248.6 63.7,247.1 64.0,245.6 64.3,244.5 64.6,243.7 64.9,243.3 65.2,243.2 65.5,243.2 65.8,243.1 66.1,243.1 66.4,243.1 66.7,243.3 67.0,243.6 67.3,244.4 67.6,245.6 67.9,247.1 68.2,248.5 68.5,249.5 68.8,249.9 69.1,249.4 69.4,248.3 69.7,246.8 70.0,245.3 70.3,244.1 70.6,243.4 70.9,243.0 71.2,242.9 71.5,242.8 71.8,242.8 72.1,242.8 72.4,242.8 72.7,243.0 73.0,243.4 73.3,244.2 73.6,245.4 73.9,246.9 74.2,248.3 74.5,249.3 74.8,249.6 75.1,249.0 75.4,247.8 75.7,246.3 76.0,244.8 76.3,243.7 76.6,243.0 76.9,242.6 77.2,242.5 77.5,242.5 77.8,242.4 78.1,242.4 78.4,242.4 78.7,242.6 79.0,243.1 79.3,244.0 79.6,245.3 79.9,246.8 80.2,248.1 80.5,249.0 80.8,249.1 81.1,248.4 81.4,247.1 81.7,245.5 82.0,244.1 82.3,243.0 82.6,242.4 82.9,242.1 83.2,242.0 83.5,242.0 83.8,242.0 84.1,242.0 84.4,242.0 84.7,242.3 85.0,242.9 85.3,243.9 85.6,245.3 85.9,246.8 86.2,248.1 86.5,248.7 86.8,248.5 87.1,247.5 87.4,246.1 87.7,244.5 88.0,243.2 88.3,242.3 88.6,241.8 88.9,241.7 89.2,241.6 89.5,241.6 89.8,241.6 90.1,241.6 90.4,241.7 90.7,242.0 91.0,242.8 91.3,244.0 91.6,245.6 91.9,247.0 92.2,248.0 92.5,248.3 92.8,247.7 93.1,246.5 93.4,244.9 93.7,243.4 94.0,242.3 94.3,241.6 94.6,241.3 94.9,241.2 95.2,241.2 95.5,241.1 95.8,241.1 96.1,241.2 96.4,241.4 96.7,242.0 97.0,243.0 97.3,244.4 97.6,246.0 97.9,247.3 98.2,247.9 98.5,247.7 98.8,246.7 99.1,245.2 99.4,243.6 99.7,242.3 100.0,241.4 100.3,240.9 100.6,240.8 100.9,240.7 101.2,240.7 101.5,240.6 101.8,240.6 102.1,240.8 102.4,241.2 102.7,242.1 103.0,243.4 103.3,245.0 103.6,246.3 103.9,247.2 104.2,247.2 104.5,246.3 104.8,244.9 105.1,243.3 105.4,241.8 105.7,240.9 106.0,240.3 106.3,240.1 106.6,240.0 106.9,240.0 107.2,240.0 107.5,240.0 107.8,240.1 108.1,240.5 108.4,241.4 108.7,242.7 109.0,244.2 109.3,245.6 109.6,246.5 109.9,246.4 110.2,245.6 110.5,244.1 110.8,242.5 111.1,241.1 111.4,240.1 111.7,239.6 112.0,239.5 112.3,239.4 112.6,239.4 112.9,239.3 113.2,239.3 113.5,239.5 113.8,240.0 114.1,241.0 114.4,242.4 114.7,244.0 115.0,245.3 115.3,245.9 115.6,245.5 115.9,244.4 116.2,242.8 116.5,241.2 116.8,240.0 117.1,239.2 117.4,238.9 117.7,238.8 118.0,238.7 118.3,238.7 118.6,238.7 118.9,238.8 119.2,239.1 119.5,239.9 119.8,241.1 120.1,242.7 120.4,244.2 120.7,245.1 121.0,245.1 121.3,244.2 121.6,242.8 121.9,241.1 122.2,239.8 122.5,238.9 122.8,238.5 123.1,238.3 123.4,238.3 123.7,238.3 124.0,238.3 124.3,238.3 124.6,238.6 124.9,239.3 125.2,240.5 125.5,242.1 125.8,243.6 126.1,244.6 126.4,244.7 126.7,243.9 127.0,242.5 127.3,240.8 127.6,239.4 127.9,238.5 128.2,238.1 128.5,238.0 128.8,238.0 129.1,238.0 129.4,237.9 129.7,238.0 130.0,238.3 130.3,239.1 130.6,240.4 130.9,242.0 131.2,243.5 131.5,244.4 131.8,244.3 132.1,243.3 132.4,241.7 132.7,240.1 133.0,238.8 133.3,238.1 133.6,237.8 133.9,237.7 134.2,237.7 134.5,237.6 134.8,237.6 135.1,237.8 135.4,238.3 135.7,239.3 136.0,240.8 136.3,242.4 136.6,243.6 136.9,244.1 137.2,243.5 137.5,242.1 137.8,240.5 138.1,239.0 138.4,238.0 138.7,237.5 139.0,237.4 139.3,237.4 139.6,237.3 139.9,237.3 140.2,237.4 140.5,237.8 140.8,238.6 141.1,240.0 141.4,241.7 141.7,243.1 142.0,243.8 142.3,243.5 142.6,242.2 142.9,240.6 143.2,239.1 143.5,238.0 143.8,237.5 144.1,237.3 144.4,237.3 144.7,237.3 145.0,237.3 145.3,237.4 145.6,237.7 145.9,238.6 146.2,239.9 146.5,241.6 146.8,243.0 147.1,243.7 147.4,243.3 147.7,242.1 148.0,240.4 148.3,238.9 148.6,237.9 148.9,237.4 149.2,237.2 149.5,237.2 149.8,237.2 150.1,237.2 150.4,237.4 150.7,237.8 151.0,238.8 151.3,240.3 151.6,242.0 151.9,243.2 152.2,243.6 152.5,242.8 152.8,241.3 153.1,239.6 153.4,238.2 153.7,237.4 154.0,237.0 154.3,236.9 154.6,236.9 154.9,236.8 155.2,236.9 155.5,237.1 155.8,237.8 156.1,239.1 156.4,240.7 156.7,242.2 157.0,242.8 157.3,242.4 157.6,241.0 157.9,239.3 158.2,237.8 158.5,236.9 158.8,236.5 159.1,236.3 159.4,236.3 159.7,236.3 160.0,236.3 160.3,236.5 160.6,237.2 160.9,238.4 161.2,240.0 161.5,241.5 161.8,242.1 162.1,241.6 162.4,240.2 162.7,238.5 163.0,237.0 163.3,236.2 163.6,235.8 163.9,235.7 164.2,235.7 164.5,235.7 164.8,235.7 165.1,236.0 165.4,236.9 165.7,238.3 166.0,240.0 166.3,241.1 166.6,241.3 166.9,240.3 167.2,238.7 167.5,237.1 167.8,235.9 168.1,235.4 168.4,235.2 168.7,235.1 169.0,235.1 169.3,235.1 169.6,235.3 169.9,236.0 170.2,237.3 170.5,238.9 170.8,240.2 171.1,240.7 171.4,239.9 171.7,238.3 172.0,236.7 172.3,235.4 172.6,234.8 172.9,234.6 173.2,234.6 173.5,234.6 173.8,234.5 174.1,234.8 174.4,235.4 174.7,236.8 175.0,238.4 175.3,239.7 175.6,239.9 175.9,239.0 176.2,237.4 176.5,235.8 176.8,234.7 177.1,234.2 177.4,234.1 177.7,234.0 178.0,234.0 178.3,234.1 178.6,234.4 178.9,235.4 179.2,236.9 179.5,238.5 179.8,239.4 180.1,239.1 180.4,237.8 180.7,236.1 181.0,234.7 181.3,234.1 181.6,233.8 181.9,233.8 182.2,233.8 182.5,233.8 182.8,234.1 183.1,235.0 183.4,236.5 183.7,238.2 184.0,239.2 184.3,238.9 184.6,237.5 184.9,235.7 185.2,234.4 185.5,233.8 185.8,233.6 186.1,233.6 186.4,233.6 186.7,233.7 187.0,234.2 187.3,235.5 187.6,237.3 187.9,238.7 188.2,238.9 188.5,237.7 188.8,235.8 189.1,234.4 189.4,233.6 189.7,233.4 190.0,233.4 190.3,233.4 190.6,233.5 190.9,234.2 191.2,235.6 191.5,237.4 191.8,238.6 192.1,238.3 192.4,236.7 192.7,234.9 193.0,233.7 193.3,233.3 193.6,233.3 193.9,233.2 194.2,233.3 194.5,233.8 194.8,235.1 195.1,237.0 195.4,238.4 195.7,238.2 196.0,236.5 196.3,234.6 196.6,233.5 196.9,233.2 197.2,233.2 197.5,233.3 197.8,233.4 198.1,234.2 198.4,236.0 198.7,237.9 199.0,238.6 199.3,237.6 199.6,235.6 199.9,234.1 200.2,233.5 200.5,233.5 200.8,233.5 201.1,233.7 201.4,234.4 201.7,236.1 202.0,238.1 202.3,238.9 202.6,237.6 202.9,235.6 203.2,234.2 203.5,233.8 203.8,233.8 204.1,233.8 204.4,234.1 204.7,235.2 205.0,237.2 205.3,239.0 205.6,238.9 205.9,237.1 206.2,235.3 206.5,234.5 206.8,234.6 207.1,234.7 207.4,235.0 207.7,235.8 208.0,237.7 208.3,239.8 208.6,240.4 208.9,239.1 209.2,237.2 209.5,236.2 209.8,236.2 210.1,236.3 210.4,236.6 210.7,237.3 211.0,239.2 211.3,241.4 211.6,241.9 211.9,240.4 212.2,238.5 212.5,237.8 212.8,237.8 213.1,238.0 213.4,238.2 213.7,239.3 214.0,241.4 214.3,243.1 214.6,242.7 214.9,240.7 215.2,239.3 215.5,239.2 215.8,239.5 216.1,239.9 216.4,240.7 216.7,242.7 217.0,245.0 217.3,245.6 217.6,244.2 217.9,242.6 218.2,242.2 218.5,242.5 223.8,245.6 226.9,249.4 229.5,253.8 231.5,252.0 233.9,249.4 236.5,251.5 238.9,254.4 241.5,262.0 243.7,268.3 246.5,264.5 248.0,263.2 250.5,270.8 252.4,279.7 253.3,290.0 253.8,330.0 254.0,374.5" fill="none" stroke="#00bb00" stroke-width="2.6" stroke-linejoin="round" stroke-linecap="butt" />
<polyline points="254.9,374.5 254.9,330.0 254.6,300.0 254.5,291.0 256.4,286.2 258.3,287.5 259.6,289.5 260.0,288.5 260.6,282.2 261.9,273.3 263.8,263.2 265.7,255.7 266.9,250.6 270.1,249.4 272.0,246.2 274.8,239.9 275.8,238.0 280.8,230.2 285.9,222.6 292.2,215.0 298.5,207.5 302.2,203.0 305.3,200.1 307.6,198.5 309.8,200.3 311.0,204.2 311.8,209.4 312.4,220.0 312.6,250.0 312.6,374.5" fill="none" stroke="#00bb00" stroke-width="2.2" stroke-linejoin="round" stroke-linecap="butt" stroke-dasharray="1.9 1.4"/>
<polyline points="312.8,374.5 313.0,238.0 313.7,211.3 314.7,189.8 314.9,187.0" fill="none" stroke="#00bb00" stroke-width="2.8" stroke-linejoin="round" stroke-linecap="butt" />
<polygon points="5.5,188.8 10.0,188.8 10.3,215.0 11.4,230.0 11.6,246.0 11.4,374.5 5.5,374.5" fill="#000"/>
<polyline points="11.0,245.3 12.5,249.3 14.0,255.3 15.8,239.3 16.6,255.3 17.8,247.3 19.0,239.8 20.8,256.8 22.0,249.3 23.5,245.3 25.3,240.8 27.1,256.8 28.5,249.3 29.5,243.3 31.0,239.3 32.5,249.3 34.1,261.3 35.2,249.3 36.0,242.8 37.9,253.3 39.5,247.3 41.7,242.8 44.2,251.8 46.0,246.3 48.6,242.3 50.2,249.8 50.2,249.1 50.5,249.9 50.8,249.9 51.1,249.2 51.4,247.9 51.7,246.5 52.0,245.1 52.3,244.1 52.6,243.5 52.9,243.2 53.2,243.1 53.5,243.1 53.8,243.1 54.1,243.1 54.4,243.1 54.7,243.3 55.0,243.7 55.3,244.6 55.6,245.8 55.9,247.3 56.2,248.6 56.5,249.5 56.8,249.7 57.1,249.2 57.4,248.0 57.7,246.5 58.0,245.1 58.3,244.0 58.6,243.3 58.9,242.9 59.2,242.8 59.5,242.8 59.8,242.8 60.1,242.8 60.4,242.8 60.7,242.9 61.0,243.3 61.3,244.1 61.6,245.3 61.9,246.7 62.2,248.1 62.5,249.1 62.8,249.5 63.1,249.0 63.4,247.9 63.7,246.4 64.0,244.9 64.3,243.8 64.6,243.0 64.9,242.6 65.2,242.5 65.5,242.5 65.8,242.4 66.1,242.4 66.4,242.4 66.7,242.6 67.0,242.9 67.3,243.7 67.6,244.9 67.9,246.4 68.2,247.8 68.5,248.8 68.8,249.2 69.1,248.7 69.4,247.6 69.7,246.1 70.0,244.6 70.3,243.4 70.6,242.7 70.9,242.3 71.2,242.2 71.5,242.1 71.8,242.1 72.1,242.1 72.4,242.1 72.7,242.3 73.0,242.7 73.3,243.5 73.6,244.7 73.9,246.2 74.2,247.6 74.5,248.6 74.8,248.9 75.1,248.3 75.4,247.1 75.7,245.6 76.0,244.1 76.3,243.0 76.6,242.3 76.9,241.9 77.2,241.8 77.5,241.8 77.8,241.7 78.1,241.7 78.4,241.7 78.7,241.9 79.0,242.4 79.3,243.3 79.6,244.6 79.9,246.1 80.2,247.4 80.5,248.3 80.8,248.4 81.1,247.7 81.4,246.4 81.7,244.8 82.0,243.4 82.3,242.3 82.6,241.7 82.9,241.4 83.2,241.3 83.5,241.3 83.8,241.3 84.1,241.3 84.4,241.3 84.7,241.6 85.0,242.2 85.3,243.2 85.6,244.6 85.9,246.1 86.2,247.4 86.5,248.0 86.8,247.8 87.1,246.8 87.4,245.4 87.7,243.8 88.0,242.5 88.3,241.6 88.6,241.1 88.9,241.0 89.2,240.9 89.5,240.9 89.8,240.9 90.1,240.9 90.4,241.0 90.7,241.3 91.0,242.1 91.3,243.3 91.6,244.9 91.9,246.3 92.2,247.3 92.5,247.6 92.8,247.0 93.1,245.8 93.4,244.2 93.7,242.7 94.0,241.6 94.3,240.9 94.6,240.6 94.9,240.5 95.2,240.5 95.5,240.4 95.8,240.4 96.1,240.5 96.4,240.7 96.7,241.3 97.0,242.3 97.3,243.7 97.6,245.3 97.9,246.6 98.2,247.2 98.5,247.0 98.8,246.0 99.1,244.5 99.4,242.9 99.7,241.6 100.0,240.7 100.3,240.2 100.6,240.1 100.9,240.0 101.2,240.0 101.5,239.9 101.8,239.9 102.1,240.1 102.4,240.5 102.7,241.4 103.0,242.7 103.3,244.3 103.6,245.6 103.9,246.5 104.2,246.5 104.5,245.6 104.8,244.2 105.1,242.6 105.4,241.1 105.7,240.2 106.0,239.6 106.3,239.4 106.6,239.3 106.9,239.3 107.2,239.3 107.5,239.3 107.8,239.4 108.1,239.8 108.4,240.7 108.7,242.0 109.0,243.5 109.3,244.9 109.6,245.8 109.9,245.7 110.2,244.9 110.5,243.4 110.8,241.8 111.1,240.4 111.4,239.4 111.7,238.9 112.0,238.8 112.3,238.7 112.6,238.7 112.9,238.6 113.2,238.6 113.5,238.8 113.8,239.3 114.1,240.3 114.4,241.7 114.7,243.3 115.0,244.6 115.3,245.2 115.6,244.8 115.9,243.7 116.2,242.1 116.5,240.5 116.8,239.3 117.1,238.5 117.4,238.2 117.7,238.1 118.0,238.0 118.3,238.0 118.6,238.0 118.9,238.1 119.2,238.4 119.5,239.2 119.8,240.4 120.1,242.0 120.4,243.4 120.7,244.3 121.0,244.4 121.3,243.5 121.6,242.0 121.9,240.3 122.2,239.0 122.5,238.1 122.8,237.6 123.1,237.5 123.4,237.4 123.7,237.4 124.0,237.4 124.3,237.4 124.6,237.7 124.9,238.4" fill="none" stroke="#00bb00" stroke-width="2.6" stroke-linejoin="round" stroke-linecap="butt" />
<polygon points="50.2,243.0 52.2,243.0 54.2,242.9 56.2,242.8 58.2,242.7 60.2,242.6 62.2,242.4 64.2,242.3 66.2,242.2 68.2,242.1 70.2,242.0 72.2,241.9 74.2,241.8 76.2,241.7 78.2,241.5 80.2,241.4 82.2,241.2 84.2,241.1 86.2,240.9 88.2,240.8 90.2,240.6 92.2,240.5 94.2,240.3 96.2,240.2 98.2,240.0 100.2,239.9 102.2,239.6 104.2,239.4 106.2,239.2 108.2,239.0 110.2,238.7 112.2,238.5 114.2,238.3 116.2,238.0 118.2,237.8 120.2,237.6 122.2,237.4 124.2,237.1 126.2,236.9 128.2,236.7 130.2,236.5 132.2,236.3 134.2,236.0 136.2,235.8 138.2,235.6 140.2,235.4 142.2,235.2 144.2,235.0 146.2,234.7 148.2,234.5 150.2,234.3 152.2,234.1 154.2,233.8 156.2,233.6 158.2,233.3 160.2,233.0 162.2,232.8 164.2,232.5 166.2,232.2 168.2,232.0 170.2,231.7 172.2,231.5 174.2,231.2 176.2,230.9 178.2,230.7 180.2,230.3 182.2,230.0 184.2,229.6 186.2,229.3 188.2,229.0 190.2,228.6 192.2,228.3 194.2,227.9 196.2,227.6 198.2,227.0 200.2,226.4 202.2,225.7 204.2,225.0 206.2,223.4 208.2,222.5 210.2,221.6 212.2,220.7 214.2,219.6 216.2,218.2 218.2,216.8 218.2,218.9 216.2,220.5 214.2,222.0 212.2,223.2 210.2,224.2 208.2,225.2 206.2,226.2 204.2,228.0 202.2,228.8 200.2,229.5 198.2,230.2 196.2,230.9 194.2,231.3 192.2,231.7 190.2,232.2 188.2,232.6 186.2,233.1 184.2,233.5 182.2,233.9 180.2,234.4 178.2,234.8 176.2,235.2 174.2,235.5 172.2,235.8 170.2,236.2 168.2,236.5 166.2,236.9 164.2,237.2 162.2,237.6 160.2,237.9 158.2,238.3 156.2,238.6 154.2,238.9 152.2,239.3 150.2,239.5 148.2,239.8 146.2,240.0 144.2,240.2 142.2,240.5 140.2,240.7 138.2,240.9 136.2,241.2 134.2,241.4 132.2,241.6 130.2,241.9 128.2,242.1 126.2,242.3 124.2,242.6 122.2,242.8 120.2,243.1 118.2,243.3 116.2,243.5 114.2,243.8 112.2,244.0 110.2,244.3 108.2,244.5 106.2,244.8 104.2,245.0 102.2,245.3 100.2,245.5 98.2,245.7 96.2,245.8 94.2,245.9 92.2,246.1 90.2,246.2 88.2,246.4 86.2,246.5 84.2,246.7 82.2,246.8 80.2,246.9 78.2,247.1 76.2,247.2 74.2,247.3 72.2,247.5 70.2,247.6 68.2,247.7 66.2,247.8 64.2,247.9 62.2,248.0 60.2,248.1 58.2,248.2 56.2,248.3 54.2,248.4 52.2,248.5 50.2,248.5" fill="#000"/>
<polygon points="11.0,242.8 14.0,242.0 33.0,241.5 40.0,243.0 51.0,242.6 51.0,250.6 40.0,252.5 30.0,254.0 11.0,254.0" fill="#000"/>
<polyline points="11.0,246.0 12.5,250.0 14.0,256.0 15.8,240.0 16.6,256.0 17.8,248.0 19.0,240.5 20.8,257.5 22.0,250.0 23.5,246.0 25.3,241.5 27.1,257.5 28.5,250.0 29.5,244.0 31.0,240.0 32.5,250.0 34.1,262.0 35.2,250.0 36.0,243.5 37.9,254.0 39.5,248.0 41.7,243.5 44.2,252.5 46.0,247.0 48.6,243.0 50.2,250.5 50.2,249.8 50.5,250.6 50.8,250.6 51.1,249.9 51.4,248.6 51.7,247.2 52.0,245.8 52.3,244.8 52.6,244.2 52.9,243.9 53.2,243.8 53.5,243.8 53.8,243.8 54.1,243.8 54.4,243.8 54.7,244.0 55.0,244.4 55.3,245.3 55.6,246.5 55.9,248.0 56.2,249.3 56.5,250.2 56.8,250.4 57.1,249.9 57.4,248.7 57.7,247.2 58.0,245.8 58.3,244.7 58.6,244.0 58.9,243.6 59.2,243.5 59.5,243.5 59.8,243.5 60.1,243.5 60.4,243.5 60.7,243.6 61.0,244.0 61.3,244.8 61.6,246.0 61.9,247.4 62.2,248.8 62.5,249.8 62.8,250.2 63.1,249.7 63.4,248.6 63.7,247.1 64.0,245.6 64.3,244.5 64.6,243.7 64.9,243.3 65.2,243.2 65.5,243.2 65.8,243.1 66.1,243.1 66.4,243.1 66.7,243.3 67.0,243.6 67.3,244.4 67.6,245.6 67.9,247.1 68.2,248.5 68.5,249.5 68.8,249.9 69.1,249.4 69.4,248.3 69.7,246.8 70.0,245.3 70.3,244.1 70.6,243.4 70.9,243.0 71.2,242.9 71.5,242.8 71.8,242.8 72.1,242.8 72.4,242.8 72.7,243.0 73.0,243.4 73.3,244.2 73.6,245.4 73.9,246.9 74.2,248.3 74.5,249.3 74.8,249.6 75.1,249.0 75.4,247.8 75.7,246.3 76.0,244.8 76.3,243.7 76.6,243.0 76.9,242.6 77.2,242.5 77.5,242.5 77.8,242.4 78.1,242.4 78.4,242.4 78.7,242.6 79.0,243.1 79.3,244.0 79.6,245.3 79.9,246.8 80.2,248.1 80.5,249.0 80.8,249.1 81.1,248.4 81.4,247.1 81.7,245.5 82.0,244.1 82.3,243.0 82.6,242.4 82.9,242.1 83.2,242.0 83.5,242.0 83.8,242.0 84.1,242.0 84.4,242.0 84.7,242.3 85.0,242.9 85.3,243.9 85.6,245.3 85.9,246.8 86.2,248.1 86.5,248.7 86.8,248.5 87.1,247.5 87.4,246.1 87.7,244.5 88.0,243.2 88.3,242.3 88.6,241.8 88.9,241.7 89.2,241.6 89.5,241.6 89.8,241.6 90.1,241.6 90.4,241.7 90.7,242.0 91.0,242.8 91.3,244.0 91.6,245.6 91.9,247.0 92.2,248.0 92.5,248.3 92.8,247.7 93.1,246.5 93.4,244.9 93.7,243.4 94.0,242.3 94.3,241.6 94.6,241.3 94.9,241.2 95.2,241.2 95.5,241.1 95.8,241.1 96.1,241.2 96.4,241.4 96.7,242.0 97.0,243.0 97.3,244.4 97.6,246.0 97.9,247.3 98.2,247.9 98.5,247.7 98.8,246.7 99.1,245.2 99.4,243.6 99.7,242.3 100.0,241.4 100.3,240.9 100.6,240.8 100.9,240.7 101.2,240.7 101.5,240.6 101.8,240.6 102.1,240.8 102.4,241.2 102.7,242.1 103.0,243.4 103.3,245.0 103.6,246.3 103.9,247.2 104.2,247.2 104.5,246.3 104.8,244.9 105.1,243.3 105.4,241.8 105.7,240.9 106.0,240.3 106.3,240.1 106.6,240.0 106.9,240.0 107.2,240.0 107.5,240.0 107.8,240.1 108.1,240.5 108.4,241.4 108.7,242.7 109.0,244.2 109.3,245.6 109.6,246.5 109.9,246.4 110.2,245.6 110.5,244.1 110.8,242.5 111.1,241.1 111.4,240.1 111.7,239.6 112.0,239.5 112.3,239.4 112.6,239.4 112.9,239.3 113.2,239.3 113.5,239.5 113.8,240.0 114.1,241.0 114.4,242.4 114.7,244.0 115.0,245.3 115.3,245.9 115.6,245.5 115.9,244.4 116.2,242.8 116.5,241.2 116.8,240.0 117.1,239.2 117.4,238.9 117.7,238.8 118.0,238.7 118.3,238.7 118.6,238.7 118.9,238.8 119.2,239.1 119.5,239.9 119.8,241.1 120.1,242.7 120.4,244.1 120.7,245.0 121.0,245.1 121.3,244.2 121.6,242.7 121.9,241.0 122.2,239.7 122.5,238.8 122.8,238.3 123.1,238.2 123.4,238.1 123.7,238.1 124.0,238.1 124.3,238.1 124.6,238.4 124.9,239.1 125.2,240.3 125.5,241.8 125.8,243.3 126.1,244.3 126.4,244.4 126.7,243.6 127.0,242.1 127.3,240.4 127.6,239.1 127.9,238.2 128.2,237.7 128.5,237.6 128.8,237.5 129.1,237.5 129.4,237.5 129.7,237.5 130.0,237.8 130.3,238.6 130.6,239.9 130.9,241.5 131.2,242.9 131.5,243.8 131.8,243.7 132.1,242.7 132.4,241.1 132.7,239.4 133.0,238.2 133.3,237.4 133.6,237.1 133.9,237.0 134.2,236.9 134.5,236.9 134.8,236.9 135.1,237.0 135.4,237.5 135.7,238.5 136.0,240.0 136.3,241.6 136.6,242.8 136.9,243.2 137.2,242.6 137.5,241.3 137.8,239.6 138.1,238.1 138.4,237.1 138.7,236.6 139.0,236.4 139.3,236.4 139.6,236.4 139.9,236.3 140.2,236.4 140.5,236.7 140.8,237.6 141.1,238.9 141.4,240.5 141.7,241.9 142.0,242.6 142.3,242.2 142.6,241.0 142.9,239.3 143.2,237.7 143.5,236.6 143.8,236.1 144.1,235.9 144.4,235.8 144.7,235.8 145.0,235.8 145.3,235.8 145.6,236.2 145.9,237.0 146.2,238.3 146.5,239.9 146.8,241.3 147.1,242.0 147.4,241.6 147.7,240.3 148.0,238.6 148.3,237.0 148.6,236.0 148.9,235.5 149.2,235.3 149.5,235.3 149.8,235.2 150.1,235.2 150.4,235.3 150.7,235.7 151.0,236.7 151.3,238.2 151.6,239.8 151.9,241.0 152.2,241.3 152.5,240.6 152.8,239.1 153.1,237.3 153.4,236.0 153.7,235.1 154.0,234.8 154.3,234.7 154.6,234.7 154.9,234.6 155.2,234.6 155.5,234.9 155.8,235.6 156.1,236.8 156.4,238.4 156.7,239.8 157.0,240.4 157.3,240.0 157.6,238.7 157.9,237.0 158.2,235.5 158.5,234.6 158.8,234.2 159.1,234.1 159.4,234.0 159.7,234.0 160.0,234.0 160.3,234.2 160.6,234.8 160.9,236.0 161.2,237.6 161.5,238.9 161.8,239.5 162.1,239.0 162.4,237.7 162.7,236.0 163.0,234.7 163.3,233.9 163.6,233.5 163.9,233.4 164.2,233.4 164.5,233.4 164.8,233.4 165.1,233.7 165.4,234.5 165.7,235.8 166.0,237.3 166.3,238.4 166.6,238.5 166.9,237.6 167.2,236.1 167.5,234.6 167.8,233.5 168.1,233.0 168.4,232.9 168.7,232.8 169.0,232.8 169.3,232.8 169.6,232.9 169.9,233.5 170.2,234.7 170.5,236.2 170.8,237.4 171.1,237.7 171.4,237.0 171.7,235.6 172.0,234.1 172.3,233.0 172.6,232.5 172.9,232.3 173.2,232.2 173.5,232.2 173.8,232.2 174.1,232.3 174.4,233.0 174.7,234.1 175.0,235.5 175.3,236.6 175.6,236.8 175.9,236.0 176.2,234.6 176.5,233.2 176.8,232.2 177.1,231.8 177.4,231.7 177.7,231.6 178.0,231.6 178.3,231.6 178.6,231.9 178.9,232.7 179.2,233.9 179.5,235.2 179.8,235.9 180.1,235.6 180.4,234.5 180.7,233.0 181.0,231.8 181.3,231.2 181.6,231.0 181.9,230.9 182.2,230.9 182.5,230.9 182.8,231.0 183.1,231.7 183.4,232.9 183.7,234.2 184.0,234.9 184.3,234.6 184.6,233.4 184.9,232.0 185.2,230.9 185.5,230.4 185.8,230.3 186.1,230.2 186.4,230.2 186.7,230.2 187.0,230.6 187.3,231.5 187.6,232.8 187.9,233.8 188.2,233.9 188.5,232.9 188.8,231.5 189.1,230.4 189.4,229.8 189.7,229.6 190.0,229.5 190.3,229.5 190.6,229.5 190.9,230.0 191.2,230.9 191.5,232.2 191.8,233.0 192.1,232.8 192.4,231.6 192.7,230.2 193.0,229.3 193.3,229.0 193.6,228.9 193.9,228.9 194.2,228.9 194.5,229.1 194.8,230.0 195.1,231.2 195.4,232.1 195.7,231.9 196.0,230.8 196.3,229.4 196.6,228.6 196.9,228.3 197.2,228.2 197.5,228.1 197.8,228.1 198.1,228.5 198.4,229.5 198.7,230.6 199.0,231.0 199.3,230.1 199.6,228.8 199.9,227.7 200.2,227.3 200.5,227.2 200.8,227.1 201.1,227.0 201.4,227.4 201.7,228.3 202.0,229.4 202.3,229.7 202.6,228.9 202.9,227.5 203.2,226.6 203.5,226.3 203.8,226.2 204.1,226.0 204.4,225.9 204.7,226.2 205.0,227.1 205.3,227.8 205.6,227.5 205.9,226.2 206.2,224.9 206.5,224.3 206.8,224.1 207.1,223.9 207.4,223.8 207.7,224.0 208.0,224.8 208.3,225.7 208.6,225.8 208.9,224.9 209.2,223.6 209.5,222.9 209.8,222.7 210.1,222.5 210.4,222.4 210.7,222.6 211.0,223.3 211.3,224.2 211.6,224.2 211.9,223.2 212.2,222.1 212.5,221.5 212.8,221.3 213.1,221.2 213.4,221.1 213.7,221.4 214.0,222.1 214.3,222.6 214.6,222.1 214.9,221.0 215.2,220.0 215.5,219.6 215.8,219.4 216.1,219.2 216.4,219.2 216.7,219.6 217.0,220.3 217.3,220.1 217.6,219.2 217.9,218.2 218.2,217.7 218.5,217.4 225.0,216.9 229.5,218.2 235.1,215.3 242.7,215.7 248.0,212.8 255.6,212.5 260.6,209.4 266.9,208.7 272.0,204.9 277.0,203.7 281.4,199.3 285.9,197.4 289.0,192.9 290.9,189.8 292.0,187.0" fill="none" stroke="#000" stroke-width="2.7" stroke-linejoin="round" stroke-linecap="butt" />
<line x1="218.8" y1="189.8" x2="218.8" y2="372.5" stroke="#000" stroke-width="1.1"/>
<line x1="306.1" y1="189.8" x2="306.1" y2="372.5" stroke="#0a0a0a" stroke-width="1.3" stroke-dasharray="9.4 8.0" stroke-dashoffset="0"/>
</g>
<line x1="29.5" y1="321.7" x2="53" y2="321.7" stroke="#0000c8" stroke-width="1.1"/>
<text x="55.6" y="324.5" font-size="12.6" fill="#1a1ac8" textLength="47.9" lengthAdjust="spacingAndGlyphs">TaylorT1</text>
<line x1="29.5" y1="333.4" x2="53" y2="333.4" stroke="#c00000" stroke-width="1.5"/>
<text x="55.6" y="336.2" font-size="12.6" fill="#c81a1a" textLength="47.9" lengthAdjust="spacingAndGlyphs">TaylorT2</text>
<line x1="29.5" y1="345.2" x2="53" y2="345.2" stroke="#00bb00" stroke-width="2.6"/>
<text x="55.6" y="348.0" font-size="12.6" fill="#1ac81a" textLength="47.9" lengthAdjust="spacingAndGlyphs">TaylorT3</text>
<line x1="29.5" y1="357.2" x2="53" y2="357.2" stroke="#000" stroke-width="2.7"/>
<text x="55.6" y="360.0" font-size="12.6" fill="#1a1a1a" textLength="47.9" lengthAdjust="spacingAndGlyphs">TaylorT4</text>
<rect x="6.0" y="1.6" width="340.5" height="182.9" fill="none" stroke="#000" stroke-width="1.2"/>
<path d="M6.0 1.6v7.0M6.0 184.5v-7.0" stroke="#000" stroke-width="1.1"/>
<path d="M76.9 1.6v7.0M76.9 184.5v-7.0" stroke="#000" stroke-width="1.1"/>
<path d="M147.9 1.6v7.0M147.9 184.5v-7.0" stroke="#000" stroke-width="1.1"/>
<path d="M218.8 1.6v7.0M218.8 184.5v-7.0" stroke="#000" stroke-width="1.1"/>
<path d="M282.7 1.6v7.0M282.7 184.5v-7.0" stroke="#000" stroke-width="1.1"/>
<path d="M346.5 1.6v7.0M346.5 184.5v-7.0" stroke="#000" stroke-width="1.1"/>
<path d="M41.5 1.6v4.0M41.5 184.5v-4.0" stroke="#000" stroke-width="1.1"/>
<path d="M112.4 1.6v4.0M112.4 184.5v-4.0" stroke="#000" stroke-width="1.1"/>
<path d="M183.3 1.6v4.0M183.3 184.5v-4.0" stroke="#000" stroke-width="1.1"/>
<path d="M240.1 1.6v4.0M240.1 184.5v-4.0" stroke="#000" stroke-width="1.1"/>
<path d="M261.4 1.6v4.0M261.4 184.5v-4.0" stroke="#000" stroke-width="1.1"/>
<path d="M303.9 1.6v4.0M303.9 184.5v-4.0" stroke="#000" stroke-width="1.1"/>
<path d="M325.2 1.6v4.0M325.2 184.5v-4.0" stroke="#000" stroke-width="1.1"/>
<path d="M6.0 182.5h3.8M346.5 182.5h-3.8" stroke="#000" stroke-width="1.1"/>
<path d="M6.0 179.4h3.8M346.5 179.4h-3.8" stroke="#000" stroke-width="1.1"/>
<path d="M6.0 176.7h3.8M346.5 176.7h-3.8" stroke="#000" stroke-width="1.1"/>
<path d="M6.0 174.3h3.8M346.5 174.3h-3.8" stroke="#000" stroke-width="1.1"/>
<path d="M6.0 172.2h3.8M346.5 172.2h-3.8" stroke="#000" stroke-width="1.1"/>
<path d="M6.0 170.4h7.0M346.5 170.4h-7.0" stroke="#000" stroke-width="1.1"/>
<path d="M6.0 158.3h3.8M346.5 158.3h-3.8" stroke="#000" stroke-width="1.1"/>
<path d="M6.0 151.1h3.8M346.5 151.1h-3.8" stroke="#000" stroke-width="1.1"/>
<path d="M6.0 146.1h3.8M346.5 146.1h-3.8" stroke="#000" stroke-width="1.1"/>
<path d="M6.0 142.2h3.8M346.5 142.2h-3.8" stroke="#000" stroke-width="1.1"/>
<path d="M6.0 139.0h3.8M346.5 139.0h-3.8" stroke="#000" stroke-width="1.1"/>
<path d="M6.0 136.3h3.8M346.5 136.3h-3.8" stroke="#000" stroke-width="1.1"/>
<path d="M6.0 134.0h3.8M346.5 134.0h-3.8" stroke="#000" stroke-width="1.1"/>
<path d="M6.0 131.9h3.8M346.5 131.9h-3.8" stroke="#000" stroke-width="1.1"/>
<path d="M6.0 130.1h7.0M346.5 130.1h-7.0" stroke="#000" stroke-width="1.1"/>
<path d="M6.0 117.9h3.8M346.5 117.9h-3.8" stroke="#000" stroke-width="1.1"/>
<path d="M6.0 110.8h3.8M346.5 110.8h-3.8" stroke="#000" stroke-width="1.1"/>
<path d="M6.0 105.8h3.8M346.5 105.8h-3.8" stroke="#000" stroke-width="1.1"/>
<path d="M6.0 101.8h3.8M346.5 101.8h-3.8" stroke="#000" stroke-width="1.1"/>
<path d="M6.0 98.7h3.8M346.5 98.7h-3.8" stroke="#000" stroke-width="1.1"/>
<path d="M6.0 96.0h3.8M346.5 96.0h-3.8" stroke="#000" stroke-width="1.1"/>
<path d="M6.0 93.6h3.8M346.5 93.6h-3.8" stroke="#000" stroke-width="1.1"/>
<path d="M6.0 91.5h3.8M346.5 91.5h-3.8" stroke="#000" stroke-width="1.1"/>
<path d="M6.0 89.7h7.0M346.5 89.7h-7.0" stroke="#000" stroke-width="1.1"/>
<path d="M6.0 77.6h3.8M346.5 77.6h-3.8" stroke="#000" stroke-width="1.1"/>
<path d="M6.0 70.4h3.8M346.5 70.4h-3.8" stroke="#000" stroke-width="1.1"/>
<path d="M6.0 65.4h3.8M346.5 65.4h-3.8" stroke="#000" stroke-width="1.1"/>
<path d="M6.0 61.5h3.8M346.5 61.5h-3.8" stroke="#000" stroke-width="1.1"/>
<path d="M6.0 58.3h3.8M346.5 58.3h-3.8" stroke="#000" stroke-width="1.1"/>
<path d="M6.0 55.6h3.8M346.5 55.6h-3.8" stroke="#000" stroke-width="1.1"/>
<path d="M6.0 53.3h3.8M346.5 53.3h-3.8" stroke="#000" stroke-width="1.1"/>
<path d="M6.0 51.2h3.8M346.5 51.2h-3.8" stroke="#000" stroke-width="1.1"/>
<path d="M6.0 49.4h7.0M346.5 49.4h-7.0" stroke="#000" stroke-width="1.1"/>
<path d="M6.0 37.2h3.8M346.5 37.2h-3.8" stroke="#000" stroke-width="1.1"/>
<path d="M6.0 30.1h3.8M346.5 30.1h-3.8" stroke="#000" stroke-width="1.1"/>
<path d="M6.0 25.1h3.8M346.5 25.1h-3.8" stroke="#000" stroke-width="1.1"/>
<path d="M6.0 21.1h3.8M346.5 21.1h-3.8" stroke="#000" stroke-width="1.1"/>
<path d="M6.0 18.0h3.8M346.5 18.0h-3.8" stroke="#000" stroke-width="1.1"/>
<path d="M6.0 15.3h3.8M346.5 15.3h-3.8" stroke="#000" stroke-width="1.1"/>
<path d="M6.0 12.9h3.8M346.5 12.9h-3.8" stroke="#000" stroke-width="1.1"/>
<path d="M6.0 10.8h3.8M346.5 10.8h-3.8" stroke="#000" stroke-width="1.1"/>
<path d="M6.0 9.0h7.0M346.5 9.0h-7.0" stroke="#000" stroke-width="1.1"/>
<rect x="6.0" y="189.8" width="340.5" height="182.7" fill="none" stroke="#000" stroke-width="1.2"/>
<path d="M6.0 189.8v7.0M6.0 372.5v-7.0" stroke="#000" stroke-width="1.1"/>
<path d="M76.9 189.8v7.0M76.9 372.5v-7.0" stroke="#000" stroke-width="1.1"/>
<path d="M147.9 189.8v7.0M147.9 372.5v-7.0" stroke="#000" stroke-width="1.1"/>
<path d="M218.8 189.8v7.0M218.8 372.5v-7.0" stroke="#000" stroke-width="1.1"/>
<path d="M282.7 189.8v7.0M282.7 372.5v-7.0" stroke="#000" stroke-width="1.1"/>
<path d="M346.5 189.8v7.0M346.5 372.5v-7.0" stroke="#000" stroke-width="1.1"/>
<path d="M41.5 189.8v4.0M41.5 372.5v-4.0" stroke="#000" stroke-width="1.1"/>
<path d="M112.4 189.8v4.0M112.4 372.5v-4.0" stroke="#000" stroke-width="1.1"/>
<path d="M183.3 189.8v4.0M183.3 372.5v-4.0" stroke="#000" stroke-width="1.1"/>
<path d="M240.1 189.8v4.0M240.1 372.5v-4.0" stroke="#000" stroke-width="1.1"/>
<path d="M261.4 189.8v4.0M261.4 372.5v-4.0" stroke="#000" stroke-width="1.1"/>
<path d="M303.9 189.8v4.0M303.9 372.5v-4.0" stroke="#000" stroke-width="1.1"/>
<path d="M325.2 189.8v4.0M325.2 372.5v-4.0" stroke="#000" stroke-width="1.1"/>
<path d="M6.0 364.2h3.8M346.5 364.2h-3.8" stroke="#000" stroke-width="1.1"/>
<path d="M6.0 358.0h3.8M346.5 358.0h-3.8" stroke="#000" stroke-width="1.1"/>
<path d="M6.0 353.3h3.8M346.5 353.3h-3.8" stroke="#000" stroke-width="1.1"/>
<path d="M6.0 349.3h3.8M346.5 349.3h-3.8" stroke="#000" stroke-width="1.1"/>
<path d="M6.0 346.0h3.8M346.5 346.0h-3.8" stroke="#000" stroke-width="1.1"/>
<path d="M6.0 343.1h3.8M346.5 343.1h-3.8" stroke="#000" stroke-width="1.1"/>
<path d="M6.0 340.6h3.8M346.5 340.6h-3.8" stroke="#000" stroke-width="1.1"/>
<path d="M6.0 338.4h7.0M346.5 338.4h-7.0" stroke="#000" stroke-width="1.1"/>
<path d="M6.0 323.4h3.8M346.5 323.4h-3.8" stroke="#000" stroke-width="1.1"/>
<path d="M6.0 314.7h3.8M346.5 314.7h-3.8" stroke="#000" stroke-width="1.1"/>
<path d="M6.0 308.5h3.8M346.5 308.5h-3.8" stroke="#000" stroke-width="1.1"/>
<path d="M6.0 303.8h3.8M346.5 303.8h-3.8" stroke="#000" stroke-width="1.1"/>
<path d="M6.0 299.8h3.8M346.5 299.8h-3.8" stroke="#000" stroke-width="1.1"/>
<path d="M6.0 296.5h3.8M346.5 296.5h-3.8" stroke="#000" stroke-width="1.1"/>
<path d="M6.0 293.6h3.8M346.5 293.6h-3.8" stroke="#000" stroke-width="1.1"/>
<path d="M6.0 291.1h3.8M346.5 291.1h-3.8" stroke="#000" stroke-width="1.1"/>
<path d="M6.0 288.9h7.0M346.5 288.9h-7.0" stroke="#000" stroke-width="1.1"/>
<path d="M6.0 273.9h3.8M346.5 273.9h-3.8" stroke="#000" stroke-width="1.1"/>
<path d="M6.0 265.2h3.8M346.5 265.2h-3.8" stroke="#000" stroke-width="1.1"/>
<path d="M6.0 259.0h3.8M346.5 259.0h-3.8" stroke="#000" stroke-width="1.1"/>
<path d="M6.0 254.3h3.8M346.5 254.3h-3.8" stroke="#000" stroke-width="1.1"/>
<path d="M6.0 250.3h3.8M346.5 250.3h-3.8" stroke="#000" stroke-width="1.1"/>
<path d="M6.0 247.0h3.8M346.5 247.0h-3.8" stroke="#000" stroke-width="1.1"/>
<path d="M6.0 244.1h3.8M346.5 244.1h-3.8" stroke="#000" stroke-width="1.1"/>
<path d="M6.0 241.6h3.8M346.5 241.6h-3.8" stroke="#000" stroke-width="1.1"/>
<path d="M6.0 239.3h7.0M346.5 239.3h-7.0" stroke="#000" stroke-width="1.1"/>
<path d="M6.0 224.4h3.8M346.5 224.4h-3.8" stroke="#000" stroke-width="1.1"/>
<path d="M6.0 215.7h3.8M346.5 215.7h-3.8" stroke="#000" stroke-width="1.1"/>
<path d="M6.0 209.5h3.8M346.5 209.5h-3.8" stroke="#000" stroke-width="1.1"/>
<path d="M6.0 204.8h3.8M346.5 204.8h-3.8" stroke="#000" stroke-width="1.1"/>
<path d="M6.0 200.8h3.8M346.5 200.8h-3.8" stroke="#000" stroke-width="1.1"/>
<path d="M6.0 197.5h3.8M346.5 197.5h-3.8" stroke="#000" stroke-width="1.1"/>
<path d="M6.0 194.6h3.8M346.5 194.6h-3.8" stroke="#000" stroke-width="1.1"/>
<path d="M6.0 192.1h3.8M346.5 192.1h-3.8" stroke="#000" stroke-width="1.1"/>
<path d="M6.0 189.8h7.0M346.5 189.8h-7.0" stroke="#000" stroke-width="1.1"/>
<text x="351.1" y="15.6" font-size="13.2" textLength="15.6" lengthAdjust="spacingAndGlyphs">10</text>
<text x="367.9" y="9.7" font-size="11.6" textLength="6.3" lengthAdjust="spacingAndGlyphs">0</text>
<text x="351.1" y="56.0" font-size="13.2" textLength="15.6" lengthAdjust="spacingAndGlyphs">10</text>
<text x="368.8" y="50.1" font-size="11.6" textLength="17.0" lengthAdjust="spacingAndGlyphs">−1</text>
<text x="351.1" y="96.3" font-size="13.2" textLength="15.6" lengthAdjust="spacingAndGlyphs">10</text>
<text x="368.8" y="90.4" font-size="11.6" textLength="17.0" lengthAdjust="spacingAndGlyphs">−2</text>
<text x="351.1" y="136.7" font-size="13.2" textLength="15.6" lengthAdjust="spacingAndGlyphs">10</text>
<text x="368.8" y="130.8" font-size="11.6" textLength="17.0" lengthAdjust="spacingAndGlyphs">−3</text>
<text x="351.1" y="177.0" font-size="13.2" textLength="15.6" lengthAdjust="spacingAndGlyphs">10</text>
<text x="368.8" y="171.1" font-size="11.6" textLength="17.0" lengthAdjust="spacingAndGlyphs">−4</text>
<text x="351.1" y="196.2" font-size="13.2" textLength="15.6" lengthAdjust="spacingAndGlyphs">10</text>
<text x="367.9" y="190.3" font-size="11.6" textLength="6.3" lengthAdjust="spacingAndGlyphs">0</text>
<text x="351.1" y="245.8" font-size="13.2" textLength="15.6" lengthAdjust="spacingAndGlyphs">10</text>
<text x="368.8" y="239.8" font-size="11.6" textLength="17.0" lengthAdjust="spacingAndGlyphs">−1</text>
<text x="351.1" y="295.2" font-size="13.2" textLength="15.6" lengthAdjust="spacingAndGlyphs">10</text>
<text x="368.8" y="289.4" font-size="11.6" textLength="17.0" lengthAdjust="spacingAndGlyphs">−2</text>
<text x="351.1" y="344.8" font-size="13.2" textLength="15.6" lengthAdjust="spacingAndGlyphs">10</text>
<text x="368.8" y="338.9" font-size="11.6" textLength="17.0" lengthAdjust="spacingAndGlyphs">−3</text>
<text x="5.7" y="390.8" font-size="13.8" text-anchor="middle" textLength="7.4" lengthAdjust="spacingAndGlyphs">0</text>
<text x="76.6" y="390.8" font-size="13.8" text-anchor="middle" textLength="31.3" lengthAdjust="spacingAndGlyphs">2000</text>
<text x="147.6" y="390.8" font-size="13.8" text-anchor="middle" textLength="31.3" lengthAdjust="spacingAndGlyphs">4000</text>
<text x="218.5" y="390.8" font-size="13.8" text-anchor="middle" textLength="31.3" lengthAdjust="spacingAndGlyphs">6000</text>
<text x="282.4" y="390.8" font-size="13.8" text-anchor="middle" textLength="31.3" lengthAdjust="spacingAndGlyphs">6300</text>
<text x="346.2" y="390.8" font-size="13.8" text-anchor="middle" textLength="31.3" lengthAdjust="spacingAndGlyphs">6600</text>
<text x="137.8" y="406.3" font-size="15.5" fill="#1c1c1c" >(</text>
<text x="144.2" y="405.7" font-size="14.5" fill="#1c1c1c" font-style="italic">t</text>
<line x1="154.6" y1="401.6" x2="162.6" y2="401.6" stroke="#1c1c1c" stroke-width="0.9"/>
<text x="168.6" y="405.7" font-size="14.5" fill="#1c1c1c" font-style="italic">r</text>
<text x="175.2" y="409.1" font-size="10" fill="#1c1c1c" >∗</text>
<text x="184.4" y="406.3" font-size="15.5" fill="#1c1c1c" >)</text>
<line x1="191.6" y1="409.9" x2="197.6" y2="394.5" stroke="#1c1c1c" stroke-width="0.95"/>
<text x="199.6" y="405.7" font-size="14.5" fill="#1c1c1c" font-style="italic" textLength="14.6" lengthAdjust="spacingAndGlyphs">M</text>
<g transform="translate(406.1,137.3) rotate(-90)">
<line x1="0" y1="-12.4" x2="0" y2="4" stroke="#1c1c1c" stroke-width="1.0"/>
<text x="3.2" y="0.0" font-size="14.5" fill="#1c1c1c" font-style="italic">δ</text>
<text x="11.4" y="0.0" font-size="15.1" fill="#1c1c1c" >A</text>
<text x="23.0" y="3.9" font-size="12.2" fill="#1c1c1c" letter-spacing="1.7">3,2</text>
<line x1="45.6" y1="4" x2="51.5" y2="-12.2" stroke="#1c1c1c" stroke-width="0.95"/>
<text x="54.5" y="0.0" font-size="15.1" fill="#1c1c1c" >A</text>
<text x="66.6" y="3.9" font-size="12.2" fill="#1c1c1c" letter-spacing="1.7">3,2</text>
<line x1="88.9" y1="-12.4" x2="88.9" y2="4" stroke="#1c1c1c" stroke-width="1.0"/>
</g>
<g transform="translate(406.1,327.0) rotate(-90)">
<line x1="0" y1="-12.4" x2="0" y2="4" stroke="#1c1c1c" stroke-width="1.0"/>
<text x="3.2" y="0.0" font-size="14.5" fill="#1c1c1c" font-style="italic">δ</text>
<text x="11.6" y="0.0" font-size="15.1" fill="#1c1c1c" >A</text>
<text x="23.4" y="3.9" font-size="12.2" fill="#1c1c1c" letter-spacing="1.7">4,4</text>
<line x1="46.3" y1="4" x2="52.3" y2="-12.2" stroke="#1c1c1c" stroke-width="0.95"/>
<text x="55.4" y="0.0" font-size="15.1" fill="#1c1c1c" >A</text>
<text x="67.6" y="3.9" font-size="12.2" fill="#1c1c1c" letter-spacing="1.7">4,4</text>
<line x1="90.3" y1="-12.4" x2="90.3" y2="4" stroke="#1c1c1c" stroke-width="1.0"/>
</g>
</svg>
</body></html>
